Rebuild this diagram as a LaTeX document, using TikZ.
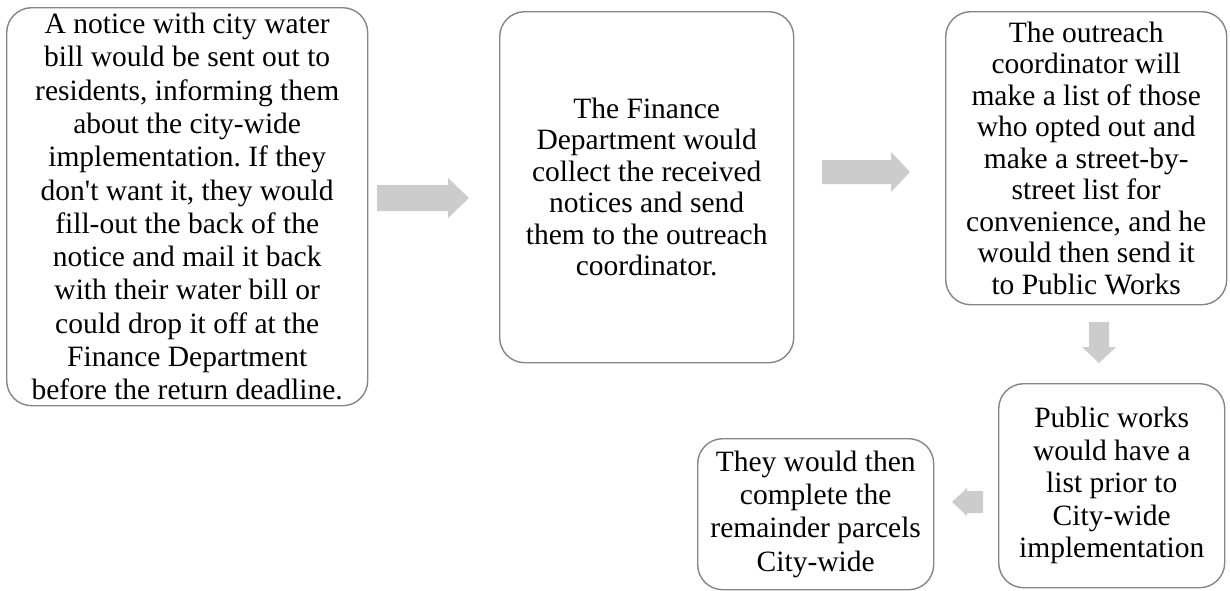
\documentclass[tikz,border=0pt]{standalone}
\usepackage{fontspec}
\setmainfont{Liberation Serif}[Ligatures=TeXOff]
\definecolor{boxgray}{rgb}{0.52,0.52,0.52}
\definecolor{arrowgray}{rgb}{0.80,0.80,0.80}
\frenchspacing
\begin{document}
\begin{tikzpicture}[x=1pt,y=-1pt,
  box/.style={draw=boxgray, line width=1.4pt, rounded corners=25pt, fill=white,
    align=center, inner sep=0pt, anchor=north west, text=black},
  blockarrow/.style={fill=arrowgray, draw=none}]
\useasboundingbox (0,0) rectangle (1230,590);

\node[box, minimum width=361pt, minimum height=398pt,
  font=\fontsize{29.5}{33.3}\selectfont] (b1) at (6,7)
  {A notice with city water\\bill would be sent out to\\residents, informing them\\about the city-wide\\implementation. If they\\don't want it, they would\\fill-out the back of the\\notice and mail it back\\with their water bill or\\could drop it off at the\\Finance Department\\before the return deadline.};

\node[box, minimum width=294pt, minimum height=351pt,
  font=\fontsize{29.5}{31.5}\selectfont] (b2) at (499,11)
  {The Finance\\Department would\\collect the received\\notices and send\\them to the outreach\\coordinator.};

\node[box, minimum width=281pt, minimum height=293pt,
  font=\fontsize{29.5}{31.5}\selectfont] (b3) at (945,11)
  {The outreach\\coordinator will\\make a list of those\\who opted out and\\make a street-by-\\street list for\\convenience, and he\\would then send it\\to Public Works};

\node[box, minimum width=226pt, minimum height=204pt,
  font=\fontsize{29.5}{32.5}\selectfont] (b4) at (998,383)
  {Public works\\would have a\\list prior to\\City-wide\\implementation};

\node[box, minimum width=236pt, minimum height=151pt,
  font=\fontsize{29.5}{33.3}\selectfont] (b5) at (697,438)
  {They would then\\complete the\\remainder parcels\\City-wide};

% block arrows
\fill[blockarrow] (377,185) -- (448,185) -- (448,178) -- (469,198) -- (448,218) -- (448,211) -- (377,211) -- cycle;
\fill[blockarrow] (822,160) -- (891,160) -- (891,152) -- (910,172) -- (891,192) -- (891,184) -- (822,184) -- cycle;
\fill[blockarrow] (1089,322) -- (1109,322) -- (1109,347) -- (1116,347) -- (1099,363) -- (1082,347) -- (1089,347) -- cycle;
\fill[blockarrow] (983,491) -- (967,491) -- (967,488) -- (952,502) -- (967,516) -- (967,513) -- (983,513) -- cycle;
\end{tikzpicture}
\end{document}
